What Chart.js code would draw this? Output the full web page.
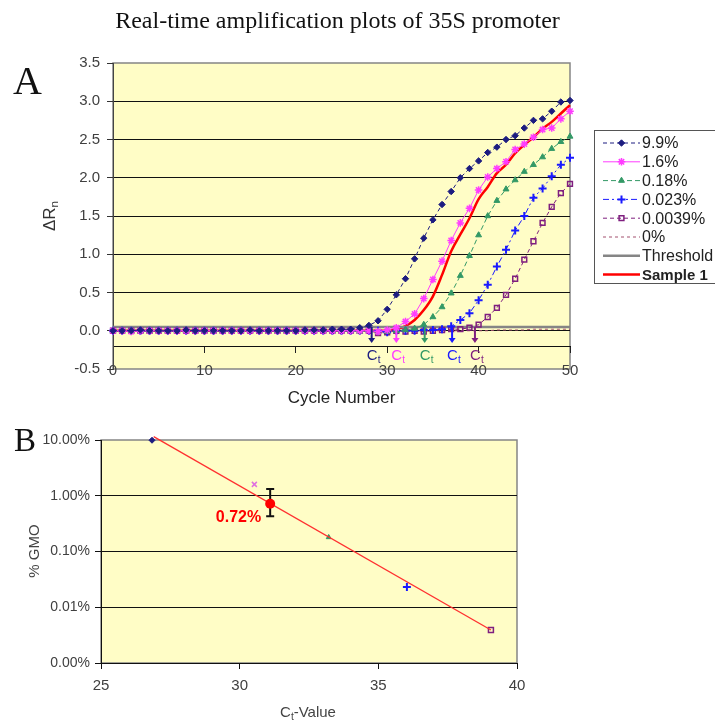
<!DOCTYPE html>
<html>
<head>
<meta charset="utf-8">
<script src="https://cdn.jsdelivr.net/npm/chart.js@4.4.1/dist/chart.umd.min.js"></script>
<style>
  body { margin: 0; background: #fff; width: 715px; height: 725px; position: relative; overflow: hidden;
         font-family: "Liberation Sans", Arial, sans-serif; }
  canvas { position: absolute; left: 0; }
  .t { position: absolute; white-space: nowrap; }
  .rot { transform: translate(-50%, -50%) rotate(-90deg); }
  sub { font-size: 0.68em; vertical-align: -0.25em; }
</style>
</head>
<body>
<canvas id="chartA" width="715" height="420" style="top:0"></canvas>
<canvas id="chartB" width="715" height="305" style="top:420px"></canvas>

<div class="t" style="left:0;width:675px;text-align:center;top:7px;font:24px 'Liberation Serif',serif;color:#111">Real-time amplification plots of 35S promoter</div>
<div class="t" style="left:13px;top:61px;font:40px/40px 'Liberation Serif',serif;color:#111">A</div>
<div class="t" style="left:14px;top:424px;font:33px/33px 'Liberation Serif',serif;color:#111">B</div>
<div class="t rot" style="left:50px;top:216px;font-size:17px;color:#333">&Delta;R<sub>n</sub></div>
<div class="t" style="left:0;width:683px;text-align:center;top:388px;font-size:17px;line-height:20px;color:#222">Cycle Number</div>
<div class="t rot" style="left:33px;top:551px;font-size:15px;color:#444">% GMO</div>
<div class="t" style="left:0;width:616px;text-align:center;top:703px;font-size:15px;line-height:18px;color:#444">C<sub>t</sub>-Value</div>

<script>
// ---- panel A: amplification curves ----
const cycles = [0,1,2,3,4,5,6,7,8,9,10,11,12,13,14,15,16,17,18,19,20,21,22,23,24,25,
  26,27,28,29,30,31,32,33,34,35,36,37,38,39,40,41,42,43,44,45,46,47,48,49,50];

const gmo99 = [0,0,0,0.01,0,0,0,0,0.01,0, 0,0,0,0,0,0.01,0,0,0,0, 0,0.01,0.01,0.01,0.02,0.02,0.02,
  0.04,0.07,0.13,0.28,0.47,0.68,0.94,1.21,1.45,1.65,1.82,2.00,2.12,2.22,2.33,2.40,2.50,2.55,2.65,2.75,2.77,2.87,2.99,3.01];
const gmo16 = [0,0,-0.01,0,0,0,0,0,0,0, 0,0,0,0,0,0,0,0,0,0, 0,0,0,0,0,0,0,0,0,-0.01,
  0.01,0.04,0.12,0.22,0.42,0.67,0.91,1.18,1.41,1.60,1.84,2.01,2.12,2.21,2.37,2.44,2.53,2.63,2.65,2.77,2.87];
const gmo018 = [0,0,0,0,0,0,0,0,0,0, 0,0,0,0,0,0,0,0,0,0, 0,0,0,0,0,0,0,-0.01,0,-0.01, -0.01,0,0.01,
  0.03,0.08,0.18,0.31,0.49,0.72,0.98,1.25,1.50,1.70,1.85,1.97,2.08,2.17,2.27,2.38,2.47,2.54];
const gmo0023 = [0,0,0,0,0,0,0,0,0,0, 0,0,0,0,0,0,0,0,0,0, 0,0,0,0,0,0,0,0,0,0, -0.02,0,0,0,0.01,0.01,
  0.02,0.06,0.14,0.23,0.40,0.60,0.84,1.06,1.31,1.50,1.74,1.86,2.02,2.17,2.26];
const gmo00039 = [0,0,0,0,0,0,0,0,0,0, 0,0,0,0,0,0,0,0,0,0, 0,0,0,0,0,0,0,0, 0,-0.03,-0.02,0,-0.01,0,-0.01,0,0.01,0.02,
  0.02,0.04,0.08,0.18,0.30,0.47,0.68,0.93,1.17,1.41,1.62,1.80,1.92];
const gmo0 = [0,0,0,0,0,0,0,0,0,0, 0,0,0,0,0,0,0,0,0,0, 0,0,0,0,0,0,0,0,0,0, 0,0,0,0,0,0,0,0,0,0, 0,
  0,0.01,0.01,0.01,0.01,0.02,0.02,0.02,0.02,0.02];
const sample1 = [0,0,0,0,0,0,0,0,0,0, 0,0,0,0,0,0,0,0,0,0, 0,0,0,0,0,0,0,0,0,0, 0,
  0.02,0.06,0.14,0.27,0.45,0.73,1.04,1.26,1.47,1.72,1.88,2.06,2.17,2.32,2.43,2.53,2.64,2.73,2.84,2.95];
const thresholdValue = 0.05;
const ctMarks = [28.3, 31.0, 34.1, 37.1, 39.6];
const axisCrossA = -0.2;

// ---- panel B: standard curve ----
const standardCt = [26.84, 30.53, 33.21, 36.03, 39.06];
const standardGmo = [9.9, 1.6, 0.18, 0.023, 0.0039];
const trendCt = [26.9, 39.06];
const trendGmo = [11.5, 0.0039];
const sampleCt = 31.1;
const sampleGmo = 0.72;
const sampleGmoLow = 0.43;
const sampleGmoHigh = 1.32;
const gmoTicks = [0.001, 0.01, 0.1, 1, 10];

const NAVY = '#1c1c80', MAGENTA = '#ff3cff', GREEN = '#339966', BLUE = '#1a1aff',
      PURPLE = '#7f1f7f', PLUM = '#a3506e', GRAY = '#858585', RED = '#ff0000';
const YELLOW = '#fffdc6';

Chart.defaults.font.family = "'Liberation Sans', Arial, sans-serif";

function pts(vals) { return vals.map((v, i) => ({x: cycles[i], y: v})); }

const plotBg = {
  id: 'plotBg',
  beforeDraw(chart) {
    const {ctx, chartArea: a} = chart;
    ctx.save();
    ctx.fillStyle = YELLOW;
    ctx.fillRect(a.left, a.top, a.width, a.height);
    ctx.strokeStyle = GRAY;
    ctx.lineWidth = 1.5;
    ctx.strokeRect(a.left, a.top, a.width, a.height);
    ctx.restore();
  }
};

const ctArrows = {
  id: 'ctArrows',
  afterDatasetsDraw(chart) {
    const {ctx, scales: {x, y}} = chart;
    const colors = [NAVY, MAGENTA, GREEN, BLUE, PURPLE];
    const y0 = y.getPixelForValue(thresholdValue);
    const axisY = y.getPixelForValue(axisCrossA);
    const y1 = axisY - 3;
    ctMarks.forEach((c, i) => {
      const px = x.getPixelForValue(c);
      ctx.save();
      ctx.strokeStyle = ctx.fillStyle = colors[i];
      ctx.lineWidth = 2;
      ctx.beginPath(); ctx.moveTo(px, y0); ctx.lineTo(px, y1 - 4); ctx.stroke();
      ctx.beginPath(); ctx.moveTo(px - 3.5, y1 - 5); ctx.lineTo(px + 3.5, y1 - 5); ctx.lineTo(px, y1); ctx.closePath(); ctx.fill();
      ctx.textBaseline = 'alphabetic';
      ctx.font = "15px 'Liberation Sans', Arial";
      ctx.fillText('C', px - 5, axisY + 14);
      ctx.font = "10px 'Liberation Sans', Arial";
      ctx.fillText('t', px + 6, axisY + 17);
      ctx.restore();
    });
  }
};

const boxLegend = {
  id: 'boxLegend',
  afterDraw(chart) {
    const {ctx} = chart;
    const left = 594, top = 130, bottom = 283;
    ctx.save();
    ctx.fillStyle = '#fff';
    ctx.fillRect(left, top, 140, bottom - top);
    ctx.strokeStyle = '#555';
    ctx.lineWidth = 1;
    ctx.strokeRect(left + 0.5, top + 0.5, 140, bottom - top);
    chart.data.datasets.forEach((ds, i) => {
      const yy = top + 13 + i * 18.8;
      ctx.strokeStyle = ds.borderColor;
      ctx.lineWidth = ds.borderWidth;
      ctx.setLineDash(ds.borderDash || []);
      ctx.beginPath(); ctx.moveTo(603, yy); ctx.lineTo(640, yy); ctx.stroke();
      ctx.setLineDash([]);
      if (ds.pointRadius > 0) {
        ctx.fillStyle = ds.backgroundColor;
        ctx.strokeStyle = ds.borderColor;
        ctx.lineWidth = ds.pointBorderWidth || 1;
        Chart.helpers.drawPoint(ctx, {pointStyle: ds.pointStyle, radius: ds.pointRadius, rotation: 0,
          borderWidth: ds.pointBorderWidth || 1}, 621.5, yy);
      }
      ctx.fillStyle = '#222';
      ctx.textBaseline = 'middle';
      ctx.font = (ds.label === 'Sample 1' ? 'bold 15px' : '16px') + " 'Liberation Sans', Arial";
      ctx.fillText(ds.label, 642, yy + 1);
    });
    ctx.restore();
  }
};

new Chart(document.getElementById('chartA'), {
  type: 'scatter',
  data: {
    datasets: [
      {label: '9.9%', data: pts(gmo99), showLine: true, borderColor: NAVY, backgroundColor: NAVY,
       borderWidth: 1, borderDash: [4, 3], pointStyle: 'rectRot', pointRadius: 3.2, pointBorderWidth: 1},
      {label: '1.6%', data: pts(gmo16), showLine: true, borderColor: MAGENTA, backgroundColor: MAGENTA,
       borderWidth: 1, pointStyle: 'star', pointRadius: 3.8, pointBorderWidth: 1.5},
      {label: '0.18%', data: pts(gmo018), showLine: true, borderColor: GREEN, backgroundColor: GREEN,
       borderWidth: 1, borderDash: [5, 3], pointStyle: 'triangle', pointRadius: 3.4, pointBorderWidth: 1},
      {label: '0.023%', data: pts(gmo0023), showLine: true, borderColor: BLUE, backgroundColor: BLUE,
       borderWidth: 1, borderDash: [6, 3, 2, 3], pointStyle: 'cross', pointRadius: 4, pointBorderWidth: 2},
      {label: '0.0039%', data: pts(gmo00039), showLine: true, borderColor: PURPLE, backgroundColor: 'rgba(0,0,0,0)',
       borderWidth: 1, borderDash: [4, 3], pointStyle: 'rect', pointRadius: 3.4, pointBorderWidth: 1.5},
      {label: '0%', data: pts(gmo0), showLine: true, borderColor: PLUM, backgroundColor: PLUM,
       borderWidth: 1, borderDash: [3, 3], pointRadius: 0},
      {label: 'Threshold', data: [{x: cycles[0], y: thresholdValue}, {x: cycles[cycles.length - 1], y: thresholdValue}],
       showLine: true, borderColor: GRAY, backgroundColor: GRAY, borderWidth: 2.5, pointRadius: 0},
      {label: 'Sample 1', data: pts(sample1), showLine: true, borderColor: RED, backgroundColor: RED,
       borderWidth: 2.5, pointRadius: 0, cubicInterpolationMode: 'monotone'}
    ]
  },
  options: {
    responsive: false,
    animation: false,
    events: [],
    layout: {padding: {left: 0, right: 145, top: 63, bottom: 51}},
    datasets: {scatter: {clip: false}},
    plugins: {legend: {display: false}, tooltip: {enabled: false}},
    scales: {
      x: {
        type: 'linear', min: 0, max: 50, position: {y: axisCrossA},
        ticks: {stepSize: 10, padding: 10, color: '#404040', font: {size: 15}, maxRotation: 0},
        grid: {drawOnChartArea: false, drawTicks: true, tickLength: 6, tickColor: '#222'},
        border: {display: true, color: '#111', width: 1}
      },
      y: {
        min: -0.5, max: 3.5,
        ticks: {stepSize: 0.5, padding: 7, color: '#404040', font: {size: 15}, callback: v => v.toFixed(1)},
        grid: {color: c => (c.tick && c.tick.value > -0.5 && c.tick.value < 3.5) ? '#111' : 'rgba(0,0,0,0)',
               tickColor: '#333', tickLength: 6},
        border: {color: '#444'},
        afterFit: s => { s.width = 113; }
      }
    }
  },
  plugins: [plotBg, ctArrows, boxLegend]
});

const errorBar = {
  id: 'errorBar',
  afterDatasetsDraw(chart) {
    const {ctx, scales: {x, y}} = chart;
    const px = x.getPixelForValue(sampleCt);
    const pyLo = y.getPixelForValue(sampleGmoLow);
    const pyHi = y.getPixelForValue(sampleGmoHigh);
    const py = y.getPixelForValue(sampleGmo);
    ctx.save();
    ctx.strokeStyle = '#111';
    ctx.lineWidth = 2;
    ctx.beginPath();
    ctx.moveTo(px, pyHi); ctx.lineTo(px, pyLo);
    ctx.moveTo(px - 4, pyHi); ctx.lineTo(px + 4, pyHi);
    ctx.moveTo(px - 4, pyLo); ctx.lineTo(px + 4, pyLo);
    ctx.stroke();
    ctx.fillStyle = RED;
    ctx.beginPath(); ctx.arc(px, py, 5, 0, Math.PI * 2); ctx.fill();
    ctx.font = "bold 16px 'Liberation Sans', Arial";
    ctx.textAlign = 'right';
    ctx.textBaseline = 'middle';
    ctx.fillText(sampleGmo.toFixed(2) + '%', px - 9, py + 14);
    ctx.restore();
  }
};

function stdPoint(i) { return [{x: standardCt[i], y: standardGmo[i]}]; }

new Chart(document.getElementById('chartB'), {
  type: 'scatter',
  data: {
    datasets: [
      {label: 'trend', data: trendCt.map((c, i) => ({x: c, y: trendGmo[i]})), showLine: true,
       borderColor: '#ff3030', borderWidth: 1.3, pointRadius: 0},
      {label: '9.9%', data: stdPoint(0), pointStyle: 'rectRot', pointRadius: 3, backgroundColor: NAVY, borderColor: NAVY},
      {label: '1.6%', data: stdPoint(1), pointStyle: 'crossRot', pointRadius: 3.5, borderWidth: 1.5, backgroundColor: '#e070e0', borderColor: '#e070e0'},
      {label: '0.18%', data: stdPoint(2), pointStyle: 'triangle', pointRadius: 2.8, backgroundColor: GREEN, borderColor: GREEN},
      {label: '0.023%', data: stdPoint(3), pointStyle: 'cross', pointRadius: 4, borderWidth: 2, backgroundColor: BLUE, borderColor: BLUE},
      {label: '0.0039%', data: stdPoint(4), pointStyle: 'rect', pointRadius: 3.5, borderWidth: 1.5, backgroundColor: 'rgba(0,0,0,0)', borderColor: PURPLE}
    ]
  },
  options: {
    responsive: false,
    animation: false,
    events: [],
    layout: {padding: {left: 0, right: 198, top: 20, bottom: 32}},
    datasets: {scatter: {clip: false}},
    plugins: {legend: {display: false}, tooltip: {enabled: false}},
    scales: {
      x: {
        type: 'linear', min: 25, max: 40,
        ticks: {stepSize: 5, padding: 8, color: '#404040', font: {size: 15}, maxRotation: 0},
        grid: {drawOnChartArea: false, tickLength: 6, tickColor: '#111'},
        border: {color: '#111'},
        afterFit: s => { s.height = 30; }
      },
      y: {
        type: 'logarithmic', min: 0.001, max: 10,
        afterBuildTicks: s => { s.ticks = gmoTicks.map(v => ({value: v})); },
        ticks: {padding: 5, color: '#404040', font: {size: 14}, callback: v => Number(v).toFixed(2) + '%'},
        grid: {color: c => (c.tick && c.tick.value > 0.001 && c.tick.value < 10) ? '#111' : 'rgba(0,0,0,0)',
               tickColor: '#111', tickLength: 6},
        border: {color: '#111'},
        afterFit: s => { s.width = 101; }
      }
    }
  },
  plugins: [plotBg, errorBar]
});
</script>
</body>
</html>
